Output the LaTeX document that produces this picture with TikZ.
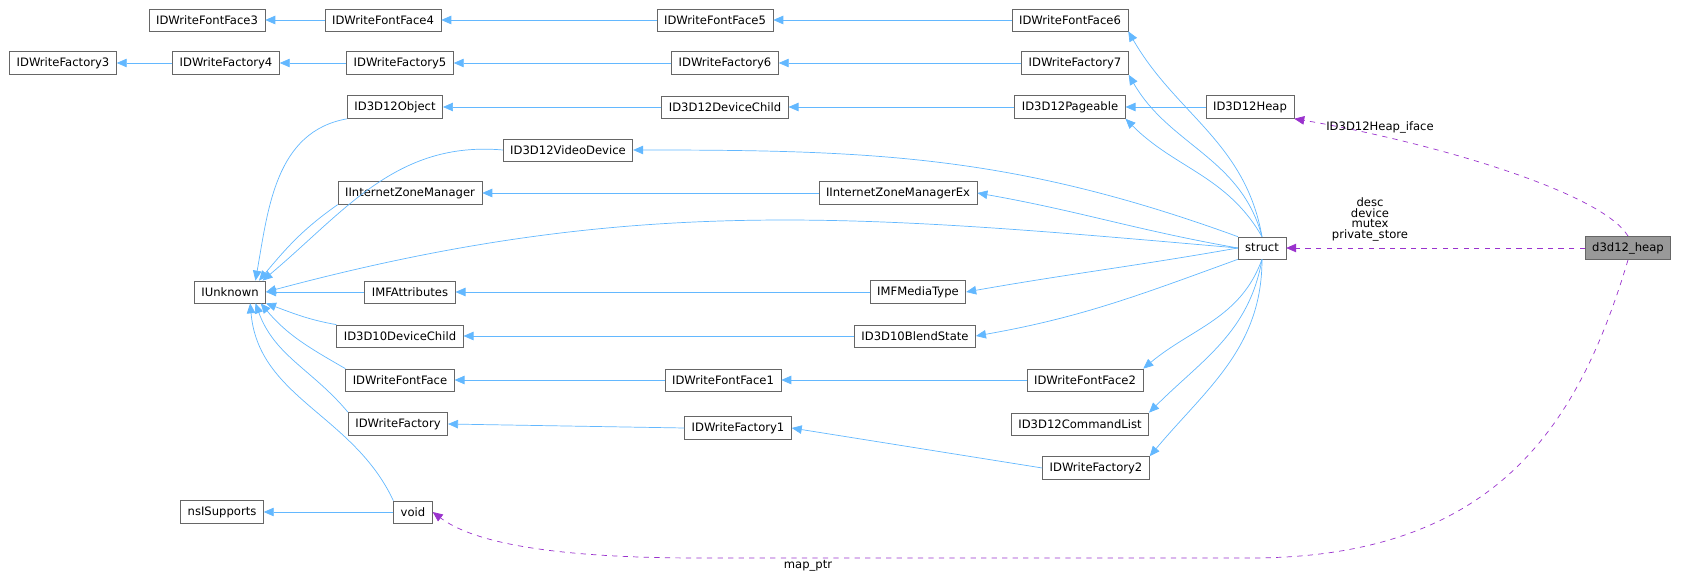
\documentclass[tikz,border=0pt]{standalone}
\usepackage{fontspec}
\setmainfont{DejaVu Sans}
\usetikzlibrary{positioning, arrows.meta}
\definecolor{dxBlue}{RGB}{99, 184, 255}
\definecolor{dxPurple}{RGB}{154, 50, 205}
\definecolor{dxFrame}{RGB}{102, 102, 102}
\definecolor{dxGray}{RGB}{153, 153, 153}
\tikzset{
    cls/.style={
        rectangle,
        draw=dxFrame,
        fill=white,
        font=\fontsize{6.6}{8}\selectfont,
        inner xsep=4pt,
        minimum height=0.44cm
    },
    current/.style={
        cls,
        fill=dxGray
    },
    inh/.style={
        -{Triangle[length=2mm, width=1.7mm, fill=dxBlue]},
        draw=dxBlue,
        thin
    },
    member/.style={
        -{Triangle[length=2mm, width=1.7mm, fill=dxPurple]},
        draw=dxPurple,
        thin,
        dashed
    },
    tag/.style={
        font=\fontsize{6.6}{8}\selectfont,
        align=center,
        inner sep=1pt
    }
}

\begin{document}
\begin{tikzpicture}[x=0.02cm, y=-0.02cm]
  \useasboundingbox (0,0) rectangle (1705,577);

  % top chains
  \node[cls] (ff3) at (207,20) {IDWriteFontFace3};
  \node[cls] (ff4) at (383,20) {IDWriteFontFace4};
  \node[cls] (ff5) at (715,20) {IDWriteFontFace5};
  \node[cls] (ff6) at (1070,20) {IDWriteFontFace6};
  \node[cls] (fa3) at (63,63) {IDWriteFactory3};
  \node[cls] (fa4) at (226,63) {IDWriteFactory4};
  \node[cls] (fa5) at (400,63) {IDWriteFactory5};
  \node[cls] (fa6) at (725,63) {IDWriteFactory6};
  \node[cls] (fa7) at (1075,63) {IDWriteFactory7};

  % d3d12 chain
  \node[cls] (obj) at (395,107) {ID3D12Object};
  \node[cls] (devchild) at (725,107) {ID3D12DeviceChild};
  \node[cls] (pageable) at (1070,107) {ID3D12Pageable};
  \node[cls] (heap) at (1250,107) {ID3D12Heap};
  \node[cls] (video) at (568,150) {ID3D12VideoDevice};
  \node[cls] (izm) at (410,193) {IInternetZoneManager};
  \node[cls] (izmex) at (898,193) {IInternetZoneManagerEx};

  % middle
  \node[cls] (unk) at (230,292) {IUnknown};
  \node[cls] (struct) at (1262,248) {struct};
  \node[current] (d3dheap) at (1628,248) {d3d12\_heap};
  \node[cls] (mfattr) at (410,292) {IMFAttributes};
  \node[cls] (mftype) at (918,292) {IMFMediaType};
  \node[cls] (d10child) at (400,336) {ID3D10DeviceChild};
  \node[cls] (blend) at (915,336) {ID3D10BlendState};

  % bottom
  \node[cls] (ff) at (400,380) {IDWriteFontFace};
  \node[cls] (ff1) at (723,380) {IDWriteFontFace1};
  \node[cls] (ff2) at (1085,380) {IDWriteFontFace2};
  \node[cls] (fa) at (398,424) {IDWriteFactory};
  \node[cls] (fa1) at (738,428) {IDWriteFactory1};
  \node[cls] (cmdlist) at (1080,424) {ID3D12CommandList};
  \node[cls] (fa2) at (1096,468) {IDWriteFactory2};
  \node[cls] (nsi) at (222,512) {nsISupports};
  \node[cls] (void) at (413,512) {void};

  % inheritance
  \draw[inh] (ff4) -- (ff3);
  \draw[inh] (ff5) -- (ff4);
  \draw[inh] (ff6) -- (ff5);
  \draw[inh] (fa4) -- (fa3);
  \draw[inh] (fa5) -- (fa4);
  \draw[inh] (fa6) -- (fa5);
  \draw[inh] (fa7) -- (fa6);
  \draw[inh] (devchild) -- (obj);
  \draw[inh] (pageable) -- (devchild);
  \draw[inh] (heap) -- (pageable);
  \draw[inh] (izmex) -- (izm);
  \draw[inh] (mftype) -- (mfattr);
  \draw[inh] (blend) -- (d10child);
  \draw[inh] (ff1) -- (ff);
  \draw[inh] (ff2) -- (ff1);
  \draw[inh] (fa1.west) -- (fa.east);
  \draw[inh] (fa2.west) -- (fa1.east);
  \draw[inh] (void) -- (nsi);

  % IUnknown children
  \draw[inh] (obj.south west) to[out=190, in=80] ([xshift=-6pt]unk.north east);
  \draw[inh] (video.west) to[out=175, in=40] ([xshift=-2pt]unk.north east);
  \draw[inh] (izm.south west) to[out=215, in=50] ([xshift=-4pt]unk.north east);
  \draw[inh] (struct.west) to[out=175, in=15] (unk.east);
  \draw[inh] (mfattr) -- (unk);
  \draw[inh] (d10child.north west) to[out=170, in=-20] (unk.south east);
  \draw[inh] (ff.north west) to[out=150, in=-50] ([xshift=-3pt]unk.south east);
  \draw[inh] (fa.north west) to[out=130, in=-70] ([xshift=-6pt]unk.south east);
  \draw[inh] (void.north west) to[out=115, in=-85] ([xshift=-9pt]unk.south east);

  % struct bases
  \draw[inh] (struct.north) to[out=100, in=-60] (ff6.south east);
  \draw[inh] (struct.north) to[out=105, in=-60] (fa7.south east);
  \draw[inh] (struct.north) to[out=120, in=-45] (pageable.south east);
  \draw[inh] (struct.north west) to[out=160, in=0] (video.east);
  \draw[inh] (struct.west) to[out=170, in=-10] (izmex.east);
  \draw[inh] (struct.west) to[out=190, in=10] (mftype.east);
  \draw[inh] (struct.south west) to[out=200, in=10] (blend.east);
  \draw[inh] (struct.south) to[out=-110, in=40] (ff2.north east);
  \draw[inh] (struct.south) to[out=-100, in=45] (cmdlist.north east);
  \draw[inh] (struct.south) to[out=-90, in=50] (fa2.north east);

  % members
  \draw[member] (d3dheap.north) .. controls (1600,190) and (1420,140) .. (heap.south east);
  \node[tag] (lheap) at (1380,127) {ID3D12Heap\_iface};
  \draw[member] (d3dheap) -- (struct);
  \node[tag, text depth=0pt] (lstruct) at (1370,218) {desc\\[-2pt]device\\[-2pt]mutex\\[-2pt]private\_store};
  \draw[member] (d3dheap.south) .. controls (1580,420) and (1500,558) .. (1250,558)
      -- (700,558) .. controls (540,558) and (470,540) .. (void.east);
  \node[tag] (lptr) at (808,566) {map\_ptr};
\end{tikzpicture}
\end{document}
